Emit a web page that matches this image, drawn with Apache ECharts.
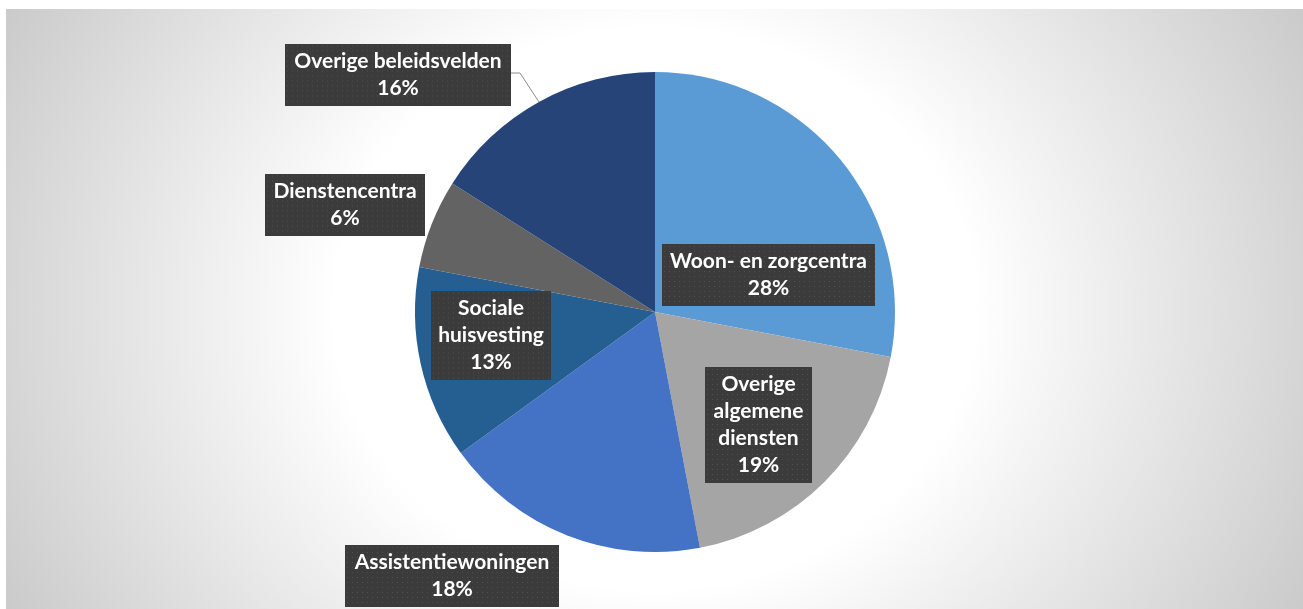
<!DOCTYPE html>
<html>
<head>
<meta charset="utf-8">
<script src="https://cdn.jsdelivr.net/npm/echarts@6/dist/echarts.min.js"></script>
<style>
  html, body { margin: 0; padding: 0; background: #ffffff; width: 1303px; height: 609px; overflow: hidden; }
  #chart {
    position: absolute; left: 6px; top: 9px; width: 1297px; height: 600px;
    background: radial-gradient(ellipse 800px 700px at 50% 50%, #ffffff 40%, #c2c2c2 100%);
  }
</style>
</head>
<body>
<div id="chart"></div>
<script>
// ---- data ----
const categories = ['Woon- en zorgcentra', 'Overige algemene diensten', 'Assistentiewoningen', 'Sociale huisvesting', 'Dienstencentra', 'Overige beleidsvelden'];
const values = [28, 19, 18, 13, 6, 16];

// ---- styles / layout ----
const sliceColors = ['#5B9BD5', '#A5A5A5', '#4472C4', '#255E91', '#636363', '#264478'];
// label box centres (chart-pixel coords), inner widths, number of text lines
const labelCentres = [[762.5, 266], [752.5, 416], [446, 567], [485, 326], [339, 195.5], [392, 65.5]];
const labelWidths = [197, 91, 198, 104, 144, 210];
const labelLines = [2, 4, 2, 3, 2, 2];
const labelWrap = [false, true, false, true, false, false];
const leaderLine = { 5: [[533, 93], [514, 64], [505, 64]] };
const LINE_H = 27, PAD_V = 4, PAD_H = 8;

// dotted dark texture for label boxes, drawn at the exact box size
function makeTexture(w, h) {
  const c = document.createElement('canvas');
  c.width = w; c.height = h;
  const g = c.getContext('2d');
  g.fillStyle = '#3b3b3b';
  g.fillRect(0, 0, w, h);
  g.fillStyle = '#4f4f4f';
  for (let y = 2; y < h; y += 5) {
    for (let x = 2; x < w; x += 5) g.fillRect(x, y, 1, 1);
  }
  return c;
}

const chart = echarts.init(document.getElementById('chart'), null, { renderer: 'canvas' });

const data = categories.map((name, i) => ({
  name: name,
  value: values[i],
  itemStyle: { color: sliceColors[i] },
  label: {
    width: labelWidths[i],
    overflow: 'none',
    backgroundColor: { image: makeTexture(labelWidths[i] + 2 * PAD_H, labelLines[i] * LINE_H + 2 * PAD_V) }
  },
  labelLine: { show: !!leaderLine[i] }
}));

chart.setOption({
  animation: false,
  backgroundColor: 'transparent',
  series: [{
    type: 'pie',
    center: [649, 303],
    radius: [0, 240],
    startAngle: 90,
    clockwise: true,
    avoidLabelOverlap: false,
    silent: true,
    data: data,
    label: {
      show: true,
      position: 'outside',
      formatter: p => (labelWrap[p.dataIndex] ? p.name.split(' ').join('\n') : p.name) + '\n' + Math.round(p.percent) + '%',
      fontFamily: 'Lato',
      fontWeight: 'bold',
      fontSize: 21,
      lineHeight: LINE_H,
      color: '#ffffff',
      align: 'center',
      padding: [PAD_V, PAD_H],
      shadowColor: 'rgba(0,0,0,0.45)',
      shadowBlur: 4,
      shadowOffsetX: 2,
      shadowOffsetY: 2
    },
    labelLine: {
      show: false,
      lineStyle: { color: '#8c8c8c', width: 1 }
    },
    labelLayout: function (params) {
      const i = params.dataIndex;
      const out = {
        x: labelCentres[i][0],
        y: labelCentres[i][1],
        align: 'center',
        verticalAlign: 'middle'
      };
      if (leaderLine[i]) out.labelLinePoints = leaderLine[i];
      return out;
    }
  }]
});
</script>
</body>
</html>
